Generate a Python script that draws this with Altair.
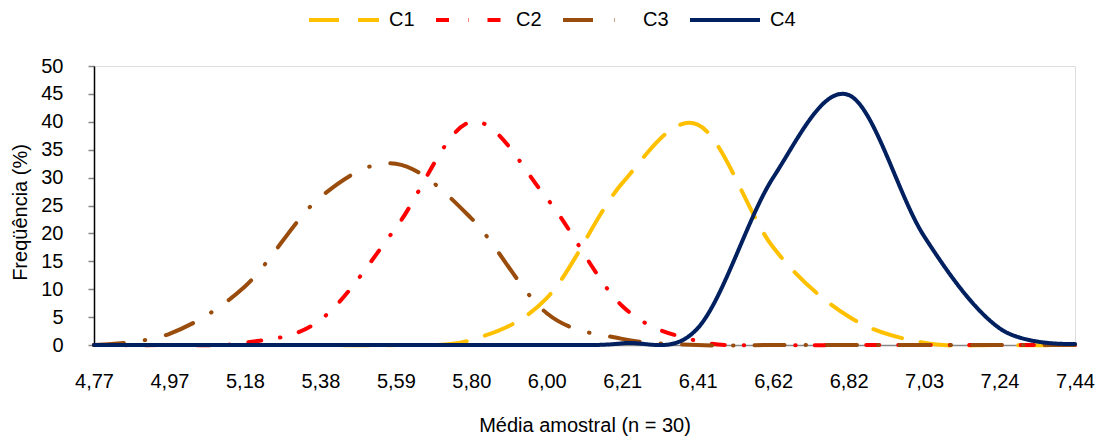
import altair as alt
import pandas as pd

x_labels = ["4,77", "4,97", "5,18", "5,38", "5,59", "5,80", "6,00",
            "6,21", "6,41", "6,62", "6,82", "7,03", "7,24", "7,44"]
series_names = ["C1", "C2", "C3", "C4"]
c1 = [0, 0, 0, 0, 0, 0.9, 8.4, 29.0, 39.5, 17.5, 5.1, 0.4, 0, 0]
c2 = [0, 0, 0.4, 4.5, 21.0, 40.0, 26.3, 7.0, 0.7, 0, 0, 0, 0, 0]
c3 = [0, 2.0, 10.5, 26.5, 32.5, 22.7, 5.7, 1.1, 0, 0, 0, 0, 0, 0]
c4 = [0, 0, 0, 0, 0, 0, 0, 0.3, 3.0, 30.0, 44.8, 19.5, 3.0, 0.2]
y_ticks = [0, 5, 10, 15, 20, 25, 30, 35, 40, 45, 50]

colors = ["#FFC000", "#FF0000", "#994C0B", "#002060"]
dashes = [[30, 19], [13, 19, 0.5, 19], [30, 21, 0.5, 21], [1, 0]]

rows = []
for name, vals in zip(series_names, [c1, c2, c3, c4]):
    for i, (xl, v) in enumerate(zip(x_labels, vals)):
        rows.append({"serie": name, "x": xl, "y": v, "order": i})
df = pd.DataFrame(rows)

FONT = "Liberation Sans"


def make_legend():
    return alt.Legend(title=None, orient="none", legendX=213, legendY=-83,
                      direction="horizontal", symbolType="stroke",
                      symbolSize=4900, symbolStrokeWidth=4, labelOffset=8,
                      columnPadding=13, labelFont=FONT, labelFontSize=20,
                      labelColor="#000000", padding=0)


chart = alt.Chart(df).mark_line(
    interpolate="cardinal", tension=0, strokeWidth=4, strokeCap="round", strokeJoin="round"
).encode(
    x=alt.X("x:O", sort=x_labels, scale=alt.Scale(type="point", padding=0),
            axis=alt.Axis(title="Média amostral (n = 30)", labelAngle=0, ticks=False,
                          labelPadding=26, domainColor="#868686", domainWidth=1.5,
                          labelFont=FONT, labelFontSize=20, labelColor="#000000",
                          titleFont=FONT, titleFontSize=20, titleFontWeight="normal",
                          titleColor="#000000", titleY=80, titleBaseline="middle", grid=False)),
    y=alt.Y("y:Q", scale=alt.Scale(domain=[0, 50], nice=False, zero=True),
            axis=alt.Axis(title="Freqüência (%)", values=y_ticks, tickSize=6, tickColor="#868686",
                          tickWidth=1.5, labelPadding=25, domainColor="#000000", domainWidth=1.5,
                          labelFont=FONT, labelFontSize=20, labelColor="#000000",
                          titleFont=FONT, titleFontSize=20, titleFontWeight="normal",
                          titleColor="#000000", titleX=-74, titleY=146, titleBaseline="middle",
                          titleAlign="center", grid=False)),
    color=alt.Color("serie:N", scale=alt.Scale(domain=series_names, range=colors),
                    legend=make_legend()),
    strokeDash=alt.StrokeDash("serie:N", scale=alt.Scale(domain=series_names, range=dashes),
                              legend=make_legend()),
    order=alt.Order("order:Q"),
).properties(
    width=981, height=279,
    autosize=alt.AutoSizeParams(type="none"),
    padding={"left": 86, "top": 58, "right": 22, "bottom": 100},
).configure_view(stroke=None).configure(background="#ffffff")

chart.save("out.html", embed_options={"renderer": "svg", "actions": False})
